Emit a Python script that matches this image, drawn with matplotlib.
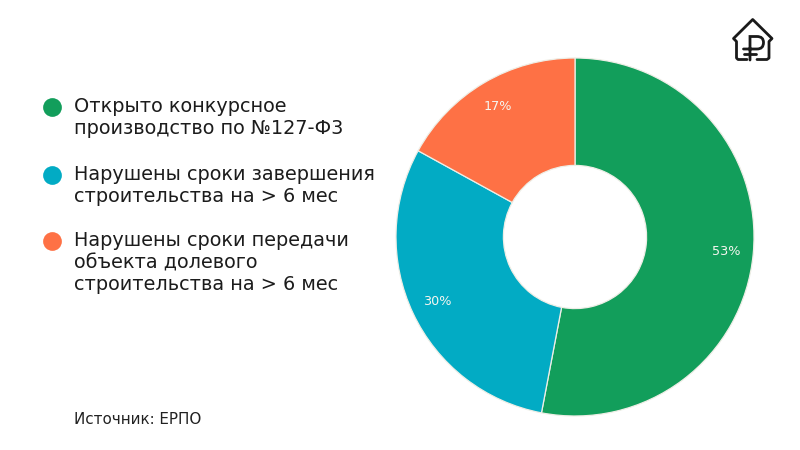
import matplotlib
matplotlib.use('Agg')
import matplotlib.pyplot as plt
from matplotlib.path import Path
from matplotlib.patches import PathPatch

plt.rcParams['font.family'] = ['DejaVu Sans']

shares = [53, 30, 17]
colors = ['#129E5B', '#02ABC4', '#FE7145']
labels = ['Открыто конкурсное\nпроизводство по №127-Ф3',
          'Нарушены сроки завершения\nстроительства на > 6 мес',
          'Нарушены сроки передачи\nобъекта долевого\nстроительства на > 6 мес']
source = 'Источник: ЕРПО'

fig = plt.figure(figsize=(8, 4.5), dpi=100)

# overlay in pixel coordinates, y going down
bg = fig.add_axes([0, 0, 1, 1])
bg.set_xlim(0, 800)
bg.set_ylim(450, 0)
bg.axis('off')

ax = fig.add_axes([396 / 800, (450 - 237 - 179) / 450, 358 / 800, 358 / 450])
wedges, texts, pcts = ax.pie(shares, colors=colors, startangle=90, counterclock=False,
                             radius=1, autopct='%.0f%%', pctdistance=0.85,
                             wedgeprops={'width': 0.6, 'edgecolor': '#EEEEE6', 'linewidth': 0.9},
                             textprops={'fontsize': 9.2, 'color': '#F6F6F0'})
ax.set_xlim(-1, 1)
ax.set_ylim(-1, 1)

# legend
dot_y = [107, 175, 241]
text_y = [117.5, 185.5, 263]
for c, lab, dy, ty in zip(colors, labels, dot_y, text_y):
    bg.plot([52], [dy], 'o', color=c, markersize=13.5, markeredgewidth=0)
    bg.text(74.5, ty, lab, fontsize=13.85, color='#1c1c1c', va='center', ha='left', linespacing=1.2)

bg.text(74, 420, source, fontsize=10.9, color='#222222', va='center', ha='left')

# logo
lw = 2.0
k = '#1a1a1a'
bg.plot([747, 738, 736.5, 736.5, 733.5, 752.7, 772, 769, 769, 767, 757],
        [59.5, 59.5, 58, 41.5, 38.5, 19.5, 38.5, 41.5, 58, 59.5, 59.5],
        color=k, lw=lw, solid_joinstyle='round', solid_capstyle='round')
ruble = Path([(750, 60), (750, 36.5), (757, 36.5), (763.5, 36.5), (763.5, 42.5), (763.5, 49), (757, 49), (743.5, 49)],
             [Path.MOVETO, Path.LINETO, Path.LINETO, Path.CURVE3, Path.CURVE3, Path.CURVE3, Path.CURVE3, Path.LINETO])
bg.add_patch(PathPatch(ruble, fill=False, edgecolor=k, lw=lw, capstyle='round'))
bg.plot([743.5, 756], [54, 54], color=k, lw=lw, solid_capstyle='round')

fig.savefig('out.png', dpi=100)
